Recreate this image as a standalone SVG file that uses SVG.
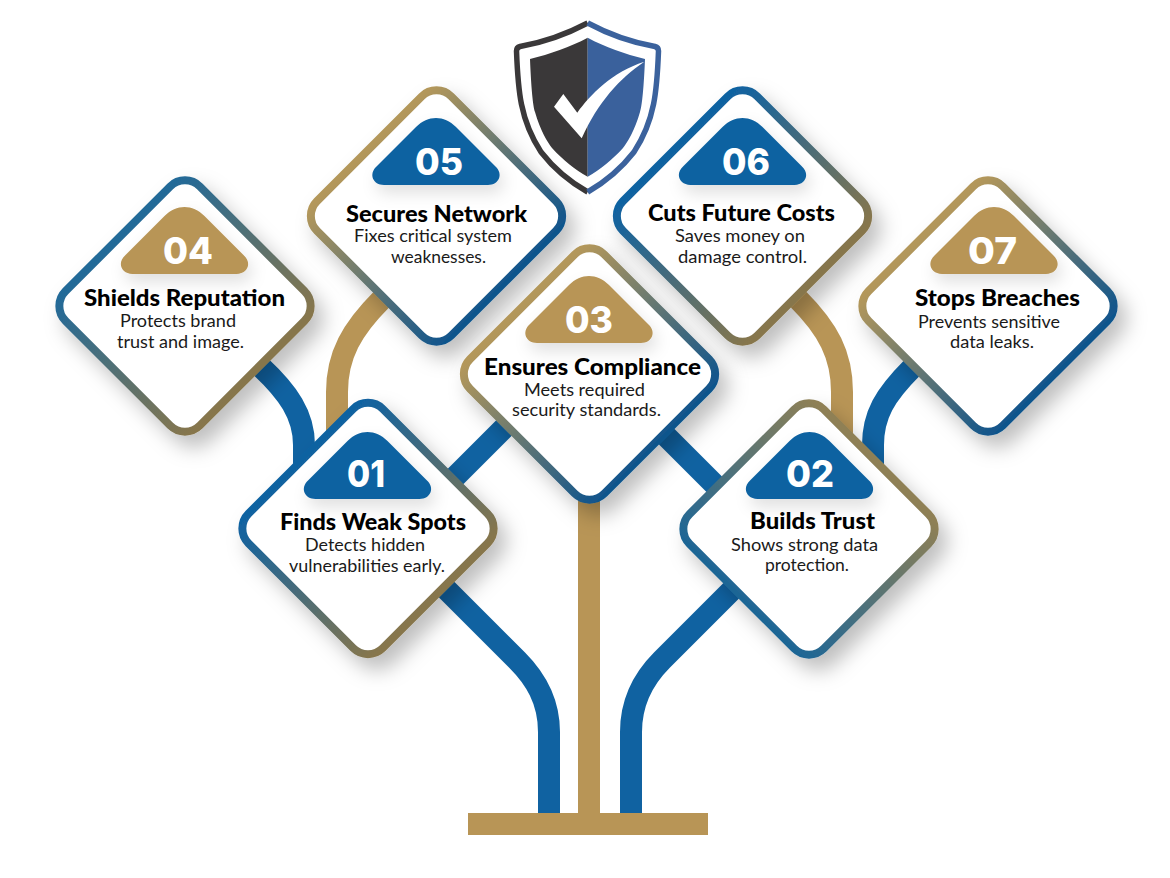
<svg xmlns="http://www.w3.org/2000/svg" width="1170" height="878" viewBox="0 0 1170 878">
<style>
.t{font-family:"Lato","Liberation Sans",sans-serif;font-weight:900;font-size:22px;fill:#000}
.d{font-family:"Lato","Liberation Sans",sans-serif;font-weight:400;font-size:17.5px;fill:#1a1a1a}
.n{font-family:"Inter","Liberation Sans",sans-serif;font-weight:800;font-size:37px;fill:#fff}
.b{fill:none;stroke:#1062a1;stroke-width:22}
.g{fill:none;stroke:#b89556;stroke-width:22}
</style>
<defs>
<linearGradient id="bt" x1="0" y1="0.5" x2="1" y2="0.5"><stop offset="0" stop-color="#1062a1"/><stop offset="1" stop-color="#87764c"/></linearGradient>
<linearGradient id="bt2" x1="0" y1="0.5" x2="1" y2="0.5"><stop offset="0" stop-color="#236a98"/><stop offset="1" stop-color="#87764c"/></linearGradient>
<linearGradient id="tb" x1="0" y1="0.5" x2="1" y2="0.5"><stop offset="0" stop-color="#b3975a"/><stop offset="1" stop-color="#11558c"/></linearGradient>
<linearGradient id="tr" x1="0.5" y1="0" x2="0.5" y2="1"><stop offset="0" stop-color="#8f8055"/><stop offset="1" stop-color="#1f6695"/></linearGradient>
<filter id="sh" x="-30%" y="-30%" width="170%" height="170%"><feDropShadow dx="9" dy="12" stdDeviation="10" flood-color="#000" flood-opacity="0.25"/></filter>
<filter id="ts" x="-30%" y="-30%" width="160%" height="170%"><feDropShadow dx="4" dy="8" stdDeviation="8" flood-color="#000" flood-opacity="0.12"/></filter>
<rect id="c-bt" x="-95" y="-95" width="190" height="190" rx="21" transform="rotate(45)" fill="#fff" stroke="url(#bt)" stroke-width="8"/>
<rect id="c-bt2" x="-95" y="-95" width="190" height="190" rx="21" transform="rotate(45)" fill="#fff" stroke="url(#bt2)" stroke-width="8"/>
<rect id="c-tb" x="-95" y="-95" width="190" height="190" rx="21" transform="rotate(45)" fill="#fff" stroke="url(#tb)" stroke-width="8"/>
<rect id="c-tr" x="-95" y="-95" width="190" height="190" rx="21" transform="rotate(45)" fill="#fff" stroke="url(#tr)" stroke-width="8"/>
<path id="tri" d="M-20,9C-8,-3 8,-3 20,9L59,48C68,56 63,67 52,67L-52,67C-63,67 -68,56 -59,48Z"/>
</defs>
<g id="connectors">
<path class="b" d="M549,813V732C549,700 535,678 517,660L420,563"/>
<path class="b" d="M631,813V732C631,700 645,677 662,660L760,562"/>
<path class="b" d="M440,492L520,412"/>
<path class="b" d="M650,420L730,500"/>
<path class="b" d="M245,352L260,366C288,392 304,415 304,445V480"/>
<path class="g" d="M400,281L382,299C352,329 337,355 337,392V445"/>
<path class="g" d="M780,281L798,299C828,329 842,355 842,392V445"/>
<path class="b" d="M930,350L912,368C885,395 873,415 873,445V480"/>
<rect x="578" y="490" width="22" height="330" fill="#b89556"/>
<rect x="468" y="813" width="240" height="22" fill="#b89556"/>
</g>
<g id="shield">
<path d="M587.700,37.700C570,47 550,54 530,59C531,85 533,107 535,112C540,130 548,143 552,148C563,160 575,170 587.700,176.700Z" fill="#3a3839"/>
<path d="M587.700,37.700C605,47 625,54 645,59C644,85 642,107 640,112C635,130 627,143 623,148C612,160 600,170 587.700,176.700Z" fill="#3a619c"/>
<path d="M587.700,23C565,35 540,43 520,46.500Q516.500,47.500 516.500,51C518,90 520,120 541,152C555,170 570,182 587.700,192" fill="none" stroke="#3a3839" stroke-width="5.500"/>
<path d="M587.700,23C610,35 635,43 655,46.500Q658.500,47.500 658.500,51C657,90 655,120 634,152C620,170 605,182 587.700,192" fill="none" stroke="#3b629d" stroke-width="5.500"/>
<path d="M554,106.700L563.300,94L577.300,112.700C590,95 612,72 644.300,61.700C620,78 598,102 581.700,138.300Z" fill="#fff"/>
</g>
<g id="node-04"><use href="#c-bt2" x="185" y="306" filter="url(#sh)"/><use href="#tri" x="184.500" y="207" fill="#b89556" filter="url(#ts)"/>
<text class="n" x="163" y="264" textLength="50" lengthAdjust="spacingAndGlyphs">04</text>
<text class="t" x="84" y="306" textLength="201" lengthAdjust="spacingAndGlyphs">Shields Reputation</text>
<text class="d" x="120" y="327" textLength="116" lengthAdjust="spacingAndGlyphs">Protects brand</text>
<text class="d" x="117" y="348" textLength="127" lengthAdjust="spacingAndGlyphs">trust and image.</text></g>
<g id="node-05"><use href="#c-tb" x="436.500" y="216" filter="url(#sh)"/><use href="#tri" x="436" y="118" fill="#1062a1" filter="url(#ts)"/>
<text class="n" x="415" y="175" textLength="48" lengthAdjust="spacingAndGlyphs">05</text>
<text class="t" x="346" y="222" textLength="181" lengthAdjust="spacingAndGlyphs">Secures Network</text>
<text class="d" x="354" y="242" textLength="158" lengthAdjust="spacingAndGlyphs">Fixes critical system</text>
<text class="d" x="391" y="263" textLength="95" lengthAdjust="spacingAndGlyphs">weaknesses.</text></g>
<g id="node-06"><use href="#c-bt" x="742.500" y="216" filter="url(#sh)"/><use href="#tri" x="742.500" y="118" fill="#1062a1" filter="url(#ts)"/>
<text class="n" x="722" y="175" textLength="48" lengthAdjust="spacingAndGlyphs">06</text>
<text class="t" x="648" y="221" textLength="187" lengthAdjust="spacingAndGlyphs">Cuts Future Costs</text>
<text class="d" x="675" y="242" textLength="130" lengthAdjust="spacingAndGlyphs">Saves money on</text>
<text class="d" x="678" y="263" textLength="129" lengthAdjust="spacingAndGlyphs">damage control.</text></g>
<g id="node-07"><use href="#c-tb" x="988" y="306" filter="url(#sh)"/><use href="#tri" x="994" y="207" fill="#b89556" filter="url(#ts)"/>
<text class="n" x="968" y="264" textLength="49" lengthAdjust="spacingAndGlyphs">07</text>
<text class="t" x="915" y="306" textLength="165" lengthAdjust="spacingAndGlyphs">Stops Breaches</text>
<text class="d" x="918" y="328" textLength="142" lengthAdjust="spacingAndGlyphs">Prevents sensitive</text>
<text class="d" x="950" y="348" textLength="84" lengthAdjust="spacingAndGlyphs">data leaks.</text></g>
<g id="node-03"><use href="#c-tb" x="589.500" y="374" filter="url(#sh)"/><use href="#tri" x="589" y="276" fill="#b89556" filter="url(#ts)"/>
<text class="n" x="565" y="333" textLength="48" lengthAdjust="spacingAndGlyphs">03</text>
<text class="t" x="484" y="375" textLength="217" lengthAdjust="spacingAndGlyphs">Ensures Compliance</text>
<text class="d" x="524" y="396" textLength="121" lengthAdjust="spacingAndGlyphs">Meets required</text>
<text class="d" x="512" y="416" textLength="149" lengthAdjust="spacingAndGlyphs">security standards.</text></g>
<g id="node-02"><use href="#c-tr" x="809" y="529" filter="url(#sh)"/><use href="#tri" x="809.500" y="432" fill="#1062a1" filter="url(#ts)"/>
<text class="n" x="786" y="487" textLength="48" lengthAdjust="spacingAndGlyphs">02</text>
<text class="t" x="750" y="529" textLength="125" lengthAdjust="spacingAndGlyphs">Builds Trust</text>
<text class="d" x="731" y="551" textLength="147" lengthAdjust="spacingAndGlyphs">Shows strong data</text>
<text class="d" x="765" y="571" textLength="84" lengthAdjust="spacingAndGlyphs">protection.</text></g>
<g id="node-01"><use href="#c-bt" x="368" y="528.500" filter="url(#sh)"/><use href="#tri" x="367.500" y="432" fill="#1062a1" filter="url(#ts)"/>
<text class="n" x="347" y="487" textLength="38" lengthAdjust="spacingAndGlyphs">01</text>
<text class="t" x="280" y="530" textLength="186" lengthAdjust="spacingAndGlyphs">Finds Weak Spots</text>
<text class="d" x="305" y="551" textLength="120" lengthAdjust="spacingAndGlyphs">Detects hidden</text>
<text class="d" x="289" y="572" textLength="156" lengthAdjust="spacingAndGlyphs">vulnerabilities early.</text></g>
</svg>
